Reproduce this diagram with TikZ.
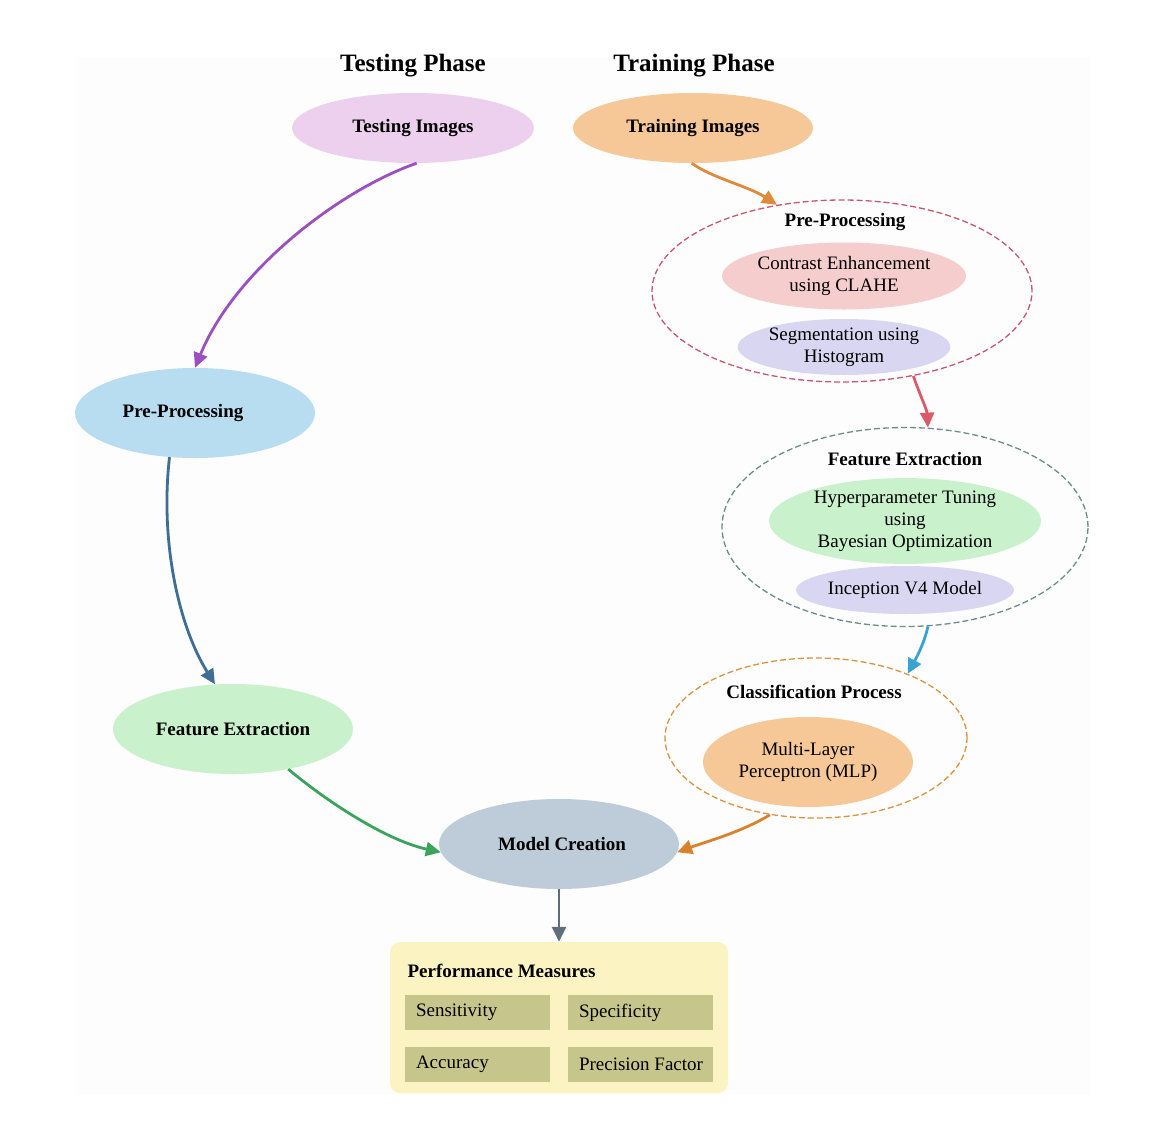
\documentclass[tikz,border=0pt]{standalone}
\usepackage{fontspec}
\setmainfont{Liberation Serif}
\usetikzlibrary{shapes.geometric,arrows.meta}
\definecolor{cTest}{HTML}{EDD0EE}
\definecolor{cTrain}{HTML}{F6C898}
\definecolor{cBlue}{HTML}{B8DCF0}
\definecolor{cGreen}{HTML}{C9F1CB}
\definecolor{cModel}{HTML}{BDCCD8}
\definecolor{cPink}{HTML}{F6CDCD}
\definecolor{cLav}{HTML}{D9D6F2}
\definecolor{cPerf}{HTML}{FBF3C1}
\definecolor{cOlive}{HTML}{C6C68C}
\definecolor{dRed}{HTML}{C9566D}
\definecolor{dTeal}{HTML}{6C8C8A}
\definecolor{dOrange}{HTML}{DA9440}
\definecolor{aPurple}{HTML}{9C4FC0}
\definecolor{aOrange}{HTML}{E08A3C}
\definecolor{aRed}{HTML}{D95B6B}
\definecolor{aBlue}{HTML}{3BA3D4}
\definecolor{aSteel}{HTML}{3E6E96}
\definecolor{aGreen}{HTML}{3AA45C}
\definecolor{aOrange2}{HTML}{D9822B}
\definecolor{aGray}{HTML}{5F6E7D}
\definecolor{bgFaint}{HTML}{FDFDFD}
\begin{document}
\begin{tikzpicture}[x=1pt,y=-1pt,
  txt/.style={font=\fontsize{19}{22}\selectfont},
  bld/.style={font=\fontsize{19}{22}\selectfont\bfseries},
  phase/.style={font=\fontsize{25}{28}\selectfont\bfseries},
  ell/.style={ellipse, draw=none, inner sep=0pt, align=center},
  grp/.style={ellipse, inner sep=0pt, line width=1.3pt, dash pattern=on 6pt off 3pt},
  conn/.style={line width=2.8pt, -{Triangle[length=15pt,width=14pt]}},
  cell/.style={rectangle, fill=cOlive, minimum height=35pt, inner xsep=0pt, text width=145pt, align=flush left, font=\fontsize{19}{22}\selectfont}
]
\useasboundingbox (0,0) rectangle (1152,1120);
\fill[white] (0,0) rectangle (1152,1120);
\fill[bgFaint] (75,57) rectangle (1090,1095);

% phase titles
\node[phase] (tph) at (413,66) {Testing Phase};
\node[phase] (trph) at (694,66) {Training Phase};

% top ellipses
\node[ell, fill=cTest, minimum width=242pt, minimum height=70pt, bld] (timg) at (413,128) {Testing Images};
\node[ell, fill=cTrain, minimum width=240pt, minimum height=70pt, bld] (trimg) at (693,128) {Training Images};

% left column
\node[ell, fill=cBlue, minimum width=240pt, minimum height=90pt, bld] (prel) at (195,413) {\hspace*{-24pt}Pre-Processing};
\node[ell, fill=cGreen, minimum width=240pt, minimum height=90pt, bld] (fel) at (233,729) {Feature Extraction};
\node[ell, fill=cModel, minimum width=240pt, minimum height=90pt, bld] (mc) at (559,844) {\hspace*{6pt}Model Creation};

% right: pre-processing group
\node[grp, draw=dRed, minimum width=380pt, minimum height=182pt] (ppr) at (842,291) {};
\node[bld] (pprt) at (845,222) {Pre-Processing};
\node[ell, fill=cPink, minimum width=240pt, minimum height=67pt, txt] (clahe) at (844,276) {Contrast Enhancement\\using CLAHE};
\node[ell, fill=cLav, minimum width=180pt, minimum height=56pt, txt] (seg) at (844,347) {Segmentation using\\Histogram};

% right: feature extraction group
\node[grp, draw=dTeal, minimum width=366pt, minimum height=199pt] (fer) at (905,527) {};
\node[bld] (fert) at (905,459) {Feature Extraction};
\node[ell, fill=cGreen, minimum width=272pt, minimum height=84pt, txt] (hyp) at (905,521) {Hyperparameter Tuning\\using\\Bayesian Optimization};
\node[ell, fill=cLav, minimum width=211pt, minimum height=48pt, txt] (inc) at (905,590) {Inception V4 Model};

% right: classification group
\node[grp, draw=dOrange, minimum width=302pt, minimum height=160pt] (cls) at (816,738) {};
\node[bld] (clst) at (814,692) {Classification Process};
\node[ell, fill=cTrain, minimum width=210pt, minimum height=90pt, txt] (mlp) at (808,762) {Multi-Layer\\Perceptron (MLP)};

% performance measures
\node[rectangle, rounded corners=10pt, fill=cPerf, minimum width=338pt, minimum height=151pt] (perf) at (559,1017.5) {};
\node[bld, anchor=west] (perft) at (404,971) {Performance Measures};
\node[cell] (sens) at (477.5,1012.5) {\hspace*{11pt}Sensitivity};
\node[cell] (spec) at (640.5,1012.5) {\hspace*{11pt}Specificity};
\node[cell] (acc) at (477.5,1064) {\hspace*{11pt}Accuracy};
\node[cell] (prec) at (640.5,1064) {\hspace*{11pt}Precision Factor};

% connectors
\draw[conn, aPurple] (timg.-84) .. controls (340,190) and (235,270) .. (prel.north);
\draw[conn, aSteel] (prel.-120) .. controls (160,540) and (178,625) .. (fel.112);
\draw[conn, aGreen] (fel.-36) .. controls (325,800) and (385,840) .. (mc.-176);
\draw[conn, aOrange] (trimg.-92) .. controls (712,178) and (748,186) .. (ppr.127);
\draw[conn, aRed] (ppr.-50) .. controls (920,395) and (927,410) .. (fer.77);
\draw[conn, aBlue] (fer.-77) .. controls (924,645) and (914,662) .. (cls.35);
\draw[conn, aOrange2] (cls.-121) .. controls (742,832) and (705,842) .. (mc.-4);
\draw[conn, aGray] (mc.south) -- (perf.north);
\end{tikzpicture}
\end{document}
